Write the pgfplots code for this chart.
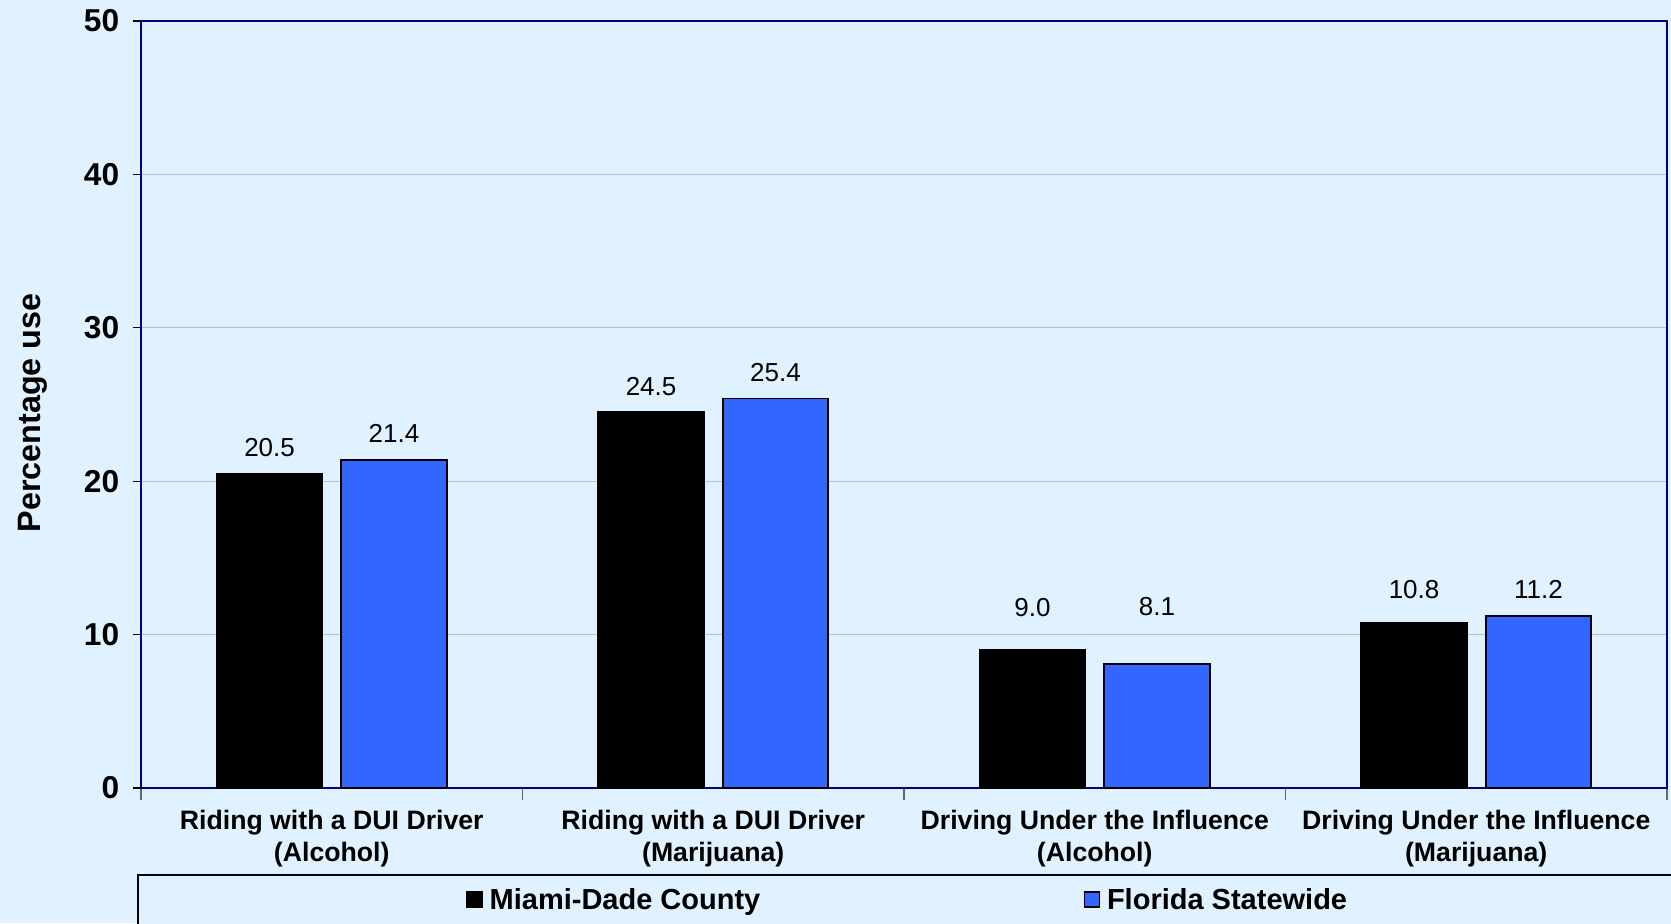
\documentclass[border=0pt]{standalone}
\usepackage{fontspec}
\setmainfont{Liberation Sans}
\usepackage{pgfplots}
\usepackage{pgfplotstable}
\pgfplotsset{compat=1.18}

\definecolor{bgblue}{RGB}{224,242,255}
\definecolor{barblue}{RGB}{51,102,255}
\definecolor{framenavy}{RGB}{0,0,128}

% off = label height above the bar top (pt)
\pgfplotstableread{
x y off
0 20.5 7.8
1 24.5 7.8
2 9.0 12.6
3 10.8 9.9
}\miami
\pgfplotstableread{
x y off
0 21.4 7.8
1 25.4 7.8
2 8.1 17.1
3 11.2 8.1
}\florida

\begin{document}
\begin{tikzpicture}
\fill[bgblue] (0,0) rectangle (501.3pt,276.9pt);
\begin{axis}[
  at={(42.3pt,40.5pt)}, anchor=south west,
  scale only axis, width=457.8pt, height=230.1pt,
  xmin=-0.5, xmax=3.5, ymin=0, ymax=50,
  ybar, bar width=0.2765,
  /pgf/number format/assume math mode=true,
  axis line style={framenavy, line width=0.8pt},
  tick align=outside, xtick pos=left, ytick pos=left,
  major tick length=2.4pt, minor tick length=3.5pt,
  ytick={0,10,...,50},
  ymajorgrids, major grid style={color=black!25, line width=0.35pt},
  ytick style={color=black, line width=0.4pt},
  yticklabel style={font=\bfseries\fontsize{9.5}{11}\selectfont, xshift=-0.6pt},
  xtick={0,1,2,3},
  major x tick style={draw=none},
  minor xtick={-0.5,0.5,1.5,2.5,3.5},
  minor x tick style={color=black!60, line width=0.4pt},
  xticklabels={{Riding with a DUI Driver\\(Alcohol)},
               {Riding with a DUI Driver\\(Marijuana)},
               {Driving Under the Influence\\(Alcohol)},
               {Driving Under the Influence\\(Marijuana)}},
  xticklabel style={font=\bfseries\fontsize{8}{9.6}\selectfont, align=center, yshift=-0.7pt},
  ylabel={Percentage use},
  ylabel style={at={(axis description cs:-0.0711,0.489)}, anchor=center,
                font=\bfseries\fontsize{9.7}{11}\selectfont},
  legend style={at={(0,0)}, anchor=north west, xshift=-1.2pt, yshift=-25.8pt,
    draw=black, line width=0.6pt, fill=bgblue, legend columns=2,
    inner xsep=98.5pt, inner ysep=2pt,
    font=\bfseries\fontsize{8.7}{10}\selectfont,
    /tikz/every even column/.append style={column sep=95pt}},
  legend image code/.code={\draw[#1] (0pt,-1.6pt) rectangle (4.5pt,2.9pt);},
  nodes near coords={\pgfmathprintnumber[fixed,fixed zerofill,precision=1]{\pgfplotspointmeta}},
  every node near coord/.append style={font=\fontsize{7.8}{9}\selectfont, color=black},
]
\addplot[fill=black, draw=black, line width=0.5pt, bar shift=-0.163,
  visualization depends on={\thisrow{off} \as \myoff},
  every node near coord/.append style={anchor=center, yshift=\myoff pt}]
  table[x=x, y=y] {\miami};
\addlegendentry{Miami-Dade County}
\addplot[fill=barblue, draw=black, line width=0.5pt, bar shift=0.163,
  visualization depends on={\thisrow{off} \as \myoff},
  every node near coord/.append style={anchor=center, yshift=\myoff pt}]
  table[x=x, y=y] {\florida};
\addlegendentry{Florida Statewide}
\end{axis}
\pgfresetboundingbox
\path[use as bounding box] (0,0) rectangle (501.3pt,276.9pt);
\end{tikzpicture}
\end{document}
